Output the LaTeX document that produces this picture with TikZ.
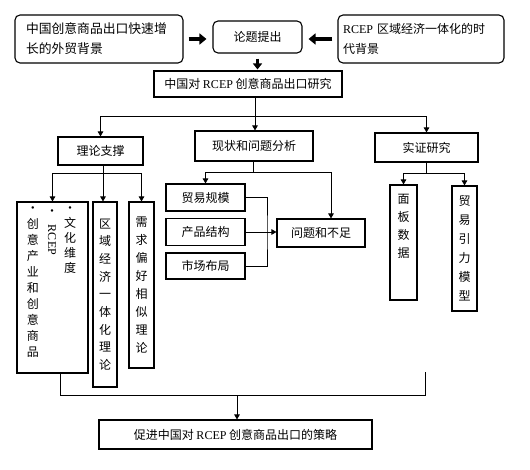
\documentclass[tikz,border=0pt]{standalone}
\usepackage{fontspec}
\setmainfont{Noto Sans CJK SC}
\newfontfamily\latin{Liberation Serif}
\usetikzlibrary{positioning,arrows.meta}

\begin{document}
\begin{tikzpicture}[x=1pt, y=-1pt, font=\fontsize{12}{16}\selectfont,
		b/.style={draw, line width=1.1pt, inner sep=0pt},
		r/.style={b, rounded corners=5pt},
		vt/.style={align=center, inner sep=0pt, font=\fontsize{12}{#1}\selectfont}, vt/.default=17.5,
		ln/.style={line width=0.9pt},
		ar/.style={ln, -{Triangle[length=5pt, width=5.5pt]}},
		fat/.style={line width=4.5pt, -{Triangle[length=7pt, width=11pt]}}]
		\useasboundingbox (0,0) rectangle (530,470);

		\node[r, minimum width=168pt, minimum height=48pt, text width=146pt, align=left, font=\fontsize{12.8}{20}\selectfont] (bgL) at (99,39) {中国创意商品出口快速增\\长的外贸背景};
		\node[r, minimum width=89pt, minimum height=32pt] (topic) at (257.5,37) {论题提出};
		\node[r, minimum width=166pt, minimum height=48pt, text width=156pt, align=left, font=\fontsize{12}{20}\selectfont] (bgR) at (421,39) {{\latin RCEP} 区域经济一体化的时\\代背景};
		\node[b, minimum width=188pt, minimum height=26pt] (study) at (248,84) {中国对 {\latin RCEP} 创意商品出口研究};

		\node[b, minimum width=85pt, minimum height=28pt] (theory) at (100.5,151) {理论支撑};
		\node[b, minimum width=118pt, minimum height=30pt] (status) at (254,146) {现状和问题分析};
		\node[b, minimum width=103pt, minimum height=29pt] (empir) at (426.5,147.5) {实证研究};

		\node[b, minimum width=71pt, minimum height=171pt] (b1) at (52.5,287.5) {};
		\node[vt=16, anchor=north] (c1) at (33,206) {•\\创\\意\\产\\业\\和\\创\\意\\商\\品};
		\node[vt=15, anchor=north] (c3) at (70,206) {•\\文\\化\\维\\度};
		\node[inner sep=0pt] (c2b) at (52,213) {•};
		\node[rotate=-90, inner sep=0pt, font=\latin\fontsize{12}{14}\selectfont] (c2) at (52,240) {RCEP};
		\node[b, vt=17.7, minimum width=24pt, minimum height=185pt] (b2) at (105,294.5) {区\\域\\经\\济\\一\\体\\化\\理\\论};
		\node[b, vt=17.9, minimum width=25pt, minimum height=166pt] (b3) at (141.5,285) {需\\求\\偏\\好\\相\\似\\理\\论};

		\node[b, minimum width=79pt, minimum height=27pt] (scale) at (205.5,197.5) {贸易规模};
		\node[b, minimum width=79pt, minimum height=27pt] (prod) at (205.5,232) {产品结构};
		\node[b, minimum width=79pt, minimum height=26pt] (market) at (205.5,266) {市场布局};
		\node[b, minimum width=88pt, minimum height=28pt] (issue) at (321,233) {问题和不足};

		\node[b, minimum width=27pt, minimum height=115pt] (panel) at (403.5,242.5) {};
		\node[vt=18, anchor=north] (panelT) at (403.5,194) {面\\板\\数\\据};
		\node[b, vt=19, minimum width=25pt, minimum height=125pt] (gravity) at (464.5,248.5) {贸\\易\\引\\力\\模\\型};

		\node[b, minimum width=273pt, minimum height=29pt] (strategy) at (235.5,434.5) {促进中国对 {\latin RCEP} 创意商品出口的策略};

		% top arrows
		\draw[fat, shorten <=5pt, shorten >=6pt] (bgL.east) -- (topic.west |- bgL.east);
		\draw[fat, shorten <=5pt, shorten >=6pt] (bgR.west) -- (topic.east |- bgR.west);
		\draw[line width=3.5pt, -{Triangle[length=6pt, width=9pt]}, shorten <=5pt, shorten >=1pt] (topic.south) -- (topic.south |- study.north);

		% branches
		\coordinate (j0) at (255,116);
		\draw[ln] (study.south -| j0) -- (j0);
		\draw[ar] (j0) -| (theory.north);
		\draw[ar] (j0) -| (empir.north);
		\draw[ar] (j0) -- (j0 |- status.north);

		\coordinate (j1) at (103,173);
		\draw[ln] (theory.south -| j1) -- (j1);
		\draw[ar] (j1) -| (b1.north);
		\draw[ar] (j1) -| (b3.north);
		\draw[ar] (j1) -- (j1 |- b2.north);

		\coordinate (j2) at (253,172);
		\draw[ln] (status.south -| j2) -- (j2);
		\draw[ar] (j2) -| (scale.north);
		\draw[ar] (j2) -| ([xshift=10pt]issue.north);

		\coordinate (j3) at (267,233);
		\draw[ln] (scale.east) -| (j3) |- (market.east);
		\draw[ar] (prod.east) -- (prod.east -| issue.west);

		\coordinate (j4) at (426,173);
		\draw[ln] (empir.south -| j4) -- (j4);
		\draw[ar] (j4) -| (panel.north);
		\draw[ar] (j4) -| (gravity.north);

		% bottom
		\coordinate (j5) at (60,395);
		\coordinate (j6) at (425,395);
		\coordinate (e1) at (425,372);
		\coordinate (j7) at (237,395);
		\draw[ln] (b1.south -| j5) -- (j5) -- (j6) -- (e1);
		\draw[ar] (j7) -- (j7 |- strategy.north);
	\end{tikzpicture}
\end{document}
